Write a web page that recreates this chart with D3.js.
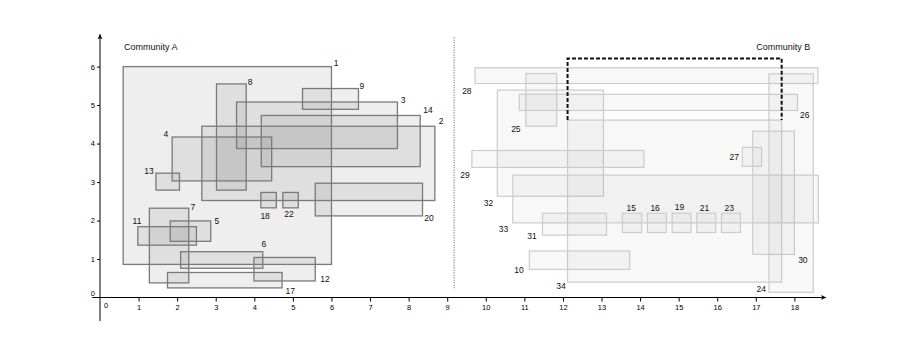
<!DOCTYPE html>
<html>
<head>
<meta charset="utf-8">
<script src="https://cdn.jsdelivr.net/npm/d3@7"></script>
<style>
  html, body { margin: 0; padding: 0; background: #fff; }
  svg { display: block; }
  text { font-family: "Liberation Sans", Arial, sans-serif; }
</style>
</head>
<body>
<svg id="chart" width="913" height="355"></svg>
<script>
// ---- Data (in data units) ----
const xTicks = [1,2,3,4,5,6,7,8,9,10,11,12,13,14,15,16,17,18];
const yTicks = [1,2,3,4,5,6];

// Community A boxes: id, x-range, y-range, label anchor
const communityA = [
  {id:"1",  x0:0.60, x1:6.00, y0:0.86, y1:6.00, lx:6.12, ly:6.09},
  {id:"2",  x0:2.64, x1:8.68, y0:2.52, y1:4.45, lx:8.84, ly:4.58},
  {id:"3",  x0:3.54, x1:7.71, y0:3.87, y1:5.08, lx:7.86, ly:5.13},
  {id:"4",  x0:1.87, x1:4.45, y0:3.03, y1:4.17, lx:1.71, ly:4.25},
  {id:"5",  x0:1.82, x1:2.87, y0:1.46, y1:1.99, lx:3.03, ly:1.99},
  {id:"6",  x0:2.09, x1:4.22, y0:0.76, y1:1.19, lx:4.25, ly:1.39},
  {id:"7",  x0:1.28, x1:2.30, y0:0.38, y1:2.32, lx:2.41, ly:2.35},
  {id:"8",  x0:3.02, x1:3.79, y0:2.79, y1:5.55, lx:3.89, ly:5.60},
  {id:"9",  x0:5.25, x1:6.70, y0:4.89, y1:5.43, lx:6.79, ly:5.49},
  {id:"11", x0:0.98, x1:2.50, y0:1.36, y1:1.84, lx:0.96, ly:1.99},
  {id:"12", x0:3.99, x1:5.58, y0:0.43, y1:1.04, lx:5.83, ly:0.48},
  {id:"13", x0:1.45, x1:2.06, y0:2.79, y1:3.23, lx:1.27, ly:3.29},
  {id:"14", x0:4.18, x1:8.30, y0:3.40, y1:4.73, lx:8.50, ly:4.87},
  {id:"17", x0:1.75, x1:4.72, y0:0.25, y1:0.65, lx:4.93, ly:0.17},
  {id:"18", x0:4.17, x1:4.57, y0:2.33, y1:2.73, lx:4.28, ly:2.12},
  {id:"20", x0:5.58, x1:8.36, y0:2.12, y1:2.97, lx:8.53, ly:2.06},
  {id:"22", x0:4.74, x1:5.14, y0:2.33, y1:2.73, lx:4.90, ly:2.17}
];

// Community B boxes
const communityB = [
  {id:"28", x0:9.72,  x1:18.61, y0:5.56, y1:5.97, lx:9.51,  ly:5.36},
  {id:"25", x0:11.04, x1:11.84, y0:4.45, y1:5.82, lx:10.78, ly:4.38},
  {id:"32", x0:10.30, x1:13.05, y0:2.63, y1:5.39, lx:10.07, ly:2.46},
  {id:"26", x0:10.87, x1:18.08, y0:4.86, y1:5.28, lx:18.27, ly:4.73},
  {id:"34", x0:12.12, x1:17.67, y0:0.40, y1:4.61, lx:11.95, ly:0.30},
  {id:"29", x0:9.64,  x1:14.10, y0:3.38, y1:3.82, lx:9.46,  ly:3.17},
  {id:"33", x0:10.70, x1:18.62, y0:1.94, y1:3.18, lx:10.46, ly:1.79},
  {id:"31", x0:11.47, x1:13.13, y0:1.62, y1:2.19, lx:11.20, ly:1.61},
  {id:"15", x0:13.54, x1:14.04, y0:1.69, y1:2.19, lx:13.77, ly:2.32},
  {id:"16", x0:14.19, x1:14.68, y0:1.69, y1:2.19, lx:14.39, ly:2.33},
  {id:"19", x0:14.83, x1:15.32, y0:1.69, y1:2.19, lx:15.02, ly:2.34},
  {id:"21", x0:15.47, x1:15.96, y0:1.69, y1:2.19, lx:15.67, ly:2.33},
  {id:"23", x0:16.11, x1:16.60, y0:1.69, y1:2.19, lx:16.31, ly:2.33},
  {id:"10", x0:11.13, x1:13.73, y0:0.73, y1:1.21, lx:10.86, ly:0.71},
  {id:"27", x0:16.65, x1:17.15, y0:3.41, y1:3.90, lx:16.44, ly:3.65},
  {id:"30", x0:16.92, x1:18.00, y0:1.12, y1:4.32, lx:18.22, ly:0.97},
  {id:"24", x0:17.34, x1:18.49, y0:0.135, y1:5.81, lx:17.14, ly:0.21}
];

// Dashed open bracket highlighting a region (data units)
const highlight = [[12.12, 4.61], [12.12, 6.21], [17.67, 6.21], [17.67, 4.61]];
// Dotted separator between communities
const separator = [[9.18, 0.24], [9.18, 6.77]];
// Community titles
const titles = [
  {text:"Community A", x:0.62, y:6.51, anchor:"start"},
  {text:"Community B", x:18.41, y:6.51, anchor:"end"}
];

// ---- Scales ----
const svg = d3.select("#chart");
const x = d3.scaleLinear().domain([0, 18]).range([100, 794.4]);
const y = d3.scaleLinear().domain([0, 6]).range([297.5, 66.6]);

// ---- Axes ----
const axisG = svg.append("g");
// axis lines with arrows
const xMin = x(-0.2), xMax = x(18.82);
const yMin = y(-0.61), yMax = y(6.84);
axisG.append("line").attr("x1", xMin).attr("x2", xMax).attr("y1", y(0)).attr("y2", y(0))
  .attr("stroke", "#000").attr("stroke-width", 1);
axisG.append("line").attr("x1", x(0)).attr("x2", x(0)).attr("y1", yMin).attr("y2", yMax)
  .attr("stroke", "#000").attr("stroke-width", 1);
axisG.append("path")
  .attr("d", `M${xMax},${y(0)} l-5,-2.5 l1.2,2.5 l-1.2,2.5 Z`).attr("fill", "#000");
axisG.append("path")
  .attr("d", `M${x(0)},${yMax} l-2.5,5 l2.5,-1.2 l2.5,1.2 Z`).attr("fill", "#000");

const gx = svg.append("g").attr("transform", `translate(0,${y(0)})`)
  .call(d3.axisBottom(x).tickValues(xTicks).tickSize(4).tickPadding(3).tickFormat(d3.format("d")));
gx.select(".domain").remove();
gx.selectAll("text").attr("font-size", 7.5).attr("fill", "#000")
  .style("font-family", '"Liberation Sans", Arial, sans-serif');

const gy = svg.append("g").attr("transform", `translate(${x(0)},0)`)
  .call(d3.axisLeft(y).tickValues(yTicks).tickSize(3).tickPadding(2).tickFormat(d3.format("d")));
gy.select(".domain").remove();
gy.selectAll("text").attr("font-size", 7.5).attr("fill", "#000")
  .style("font-family", '"Liberation Sans", Arial, sans-serif');

// origin labels
svg.append("text").attr("x", x(0) + 6).attr("y", y(0) + 10.5)
  .attr("font-size", 7.5).attr("text-anchor", "middle").text("0");
svg.append("text").attr("x", x(0) - 5).attr("y", y(0) - 2)
  .attr("font-size", 7.5).attr("text-anchor", "end").text("0");

// ---- Community B boxes (light) ----
const gB = svg.append("g");
gB.selectAll("rect").data(communityB).join("rect")
  .attr("x", d => x(d.x0)).attr("y", d => y(d.y1))
  .attr("width", d => x(d.x1) - x(d.x0)).attr("height", d => y(d.y0) - y(d.y1))
  .attr("fill", "rgba(150,150,150,0.07)")
  .attr("stroke", "#cccccc").attr("stroke-width", 1.2);

// ---- Community A boxes (darker) ----
const gA = svg.append("g");
gA.selectAll("rect").data(communityA).join("rect")
  .attr("x", d => x(d.x0)).attr("y", d => y(d.y1))
  .attr("width", d => x(d.x1) - x(d.x0)).attr("height", d => y(d.y0) - y(d.y1))
  .attr("fill", "rgba(120,120,120,0.13)")
  .attr("stroke", "#7a7a7a").attr("stroke-width", 1.3);

// ---- Separator and highlight ----
const line = d3.line().x(d => x(d[0])).y(d => y(d[1]));
svg.append("path").attr("d", line(separator))
  .attr("fill", "none").attr("stroke", "#555").attr("stroke-width", 1)
  .attr("stroke-dasharray", "1,1.5");
svg.append("path").attr("d", line(highlight))
  .attr("fill", "none").attr("stroke", "#111").attr("stroke-width", 2)
  .attr("stroke-dasharray", "4,2");

// ---- Labels ----
svg.append("g").selectAll("text").data(communityA.concat(communityB)).join("text")
  .attr("x", d => x(d.lx)).attr("y", d => y(d.ly))
  .attr("dy", "0.35em").attr("text-anchor", "middle")
  .attr("font-size", 8.5).attr("fill", "#111").text(d => d.id);

svg.append("g").selectAll("text").data(titles).join("text")
  .attr("x", d => x(d.x)).attr("y", d => y(d.y))
  .attr("dy", "0.35em").attr("text-anchor", d => d.anchor)
  .attr("font-size", 9).attr("fill", "#111").text(d => d.text);
</script>
</body>
</html>
